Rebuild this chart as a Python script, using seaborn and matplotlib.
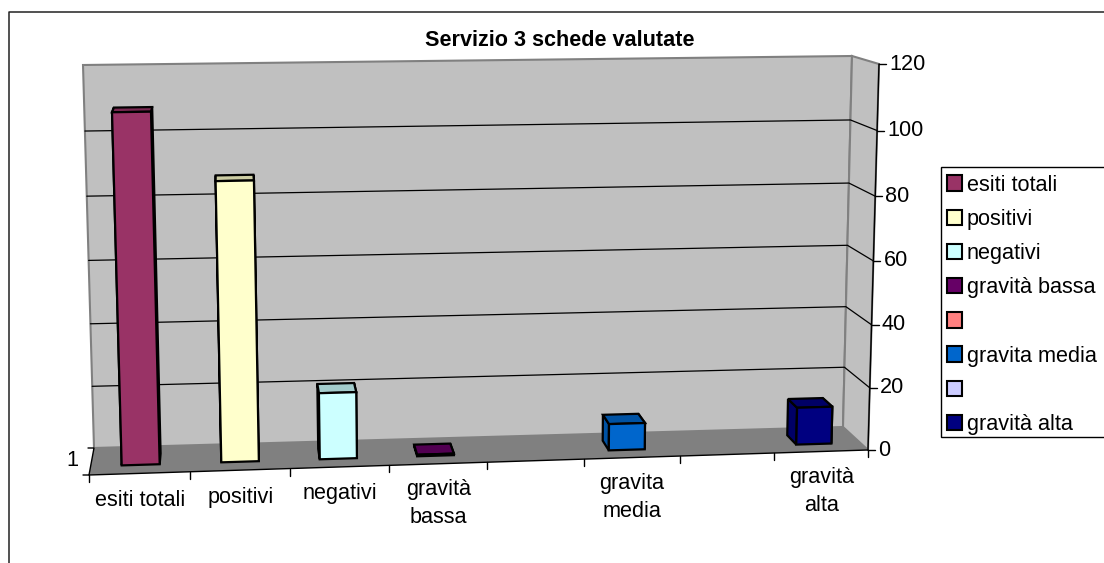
import numpy as np
import pandas as pd
import matplotlib
matplotlib.use("Agg")
import matplotlib.pyplot as plt
from matplotlib.patches import Patch, Polygon, Rectangle
from matplotlib.transforms import Transform
import seaborn as sns

title = "Servizio 3 schede valutate"
slots = [0, 1, 2, 3, 5, 7]
names = ["esiti totali", "positivi", "negativi", "gravità bassa", "gravita media", "gravità alta"]
values = [108, 87, 21, 0.5, 8.5, 12]
colors = ["#993366", "#FFFFCC", "#CCFFFF", "#660066", "#0066CC", "#000080"]
tick_labels = ["esiti totali", "positivi", "negativi", "gravità\nbassa", "", "gravita\nmedia", "", "gravità\nalta"]
legend_labels = ["esiti totali", "positivi", "negativi", "gravità bassa", "", "gravita media", "", "gravità alta"]
legend_colors = ["#993366", "#FFFFCC", "#CCFFFF", "#660066", "#FF8080", "#0066CC", "#CCCCFF", "#000080"]
y_ticks = [0, 20, 40, 60, 80, 100, 120]
n_slots = 8
y_max = 120

sns.set_theme(style="white")
plt.rcParams["font.family"] = ["Liberation Sans", "DejaVu Sans"]

# pixel corners of the excel 3d box
front_bl, front_br = np.array([89, 475.0]), np.array([868, 450.0])
front_tl, front_tr = np.array([77, 75.0]), np.array([879, 64.0])
back_bl, back_br = np.array([94, 448.0]), np.array([843, 427.0])
back_tl, back_tr = np.array([83, 65.0]), np.array([852, 56.0])


def warp(t, k):
    return t * k / (1 + t * (k - 1))


def box_point(x, v, d):
    # x in slot units, v in axis units, d is depth 0 (front) to 1 (back wall)
    t = warp((np.asarray(x, dtype=float) + 0.5) / n_slots, 1.045)
    s = warp(np.asarray(v, dtype=float) / y_max, 0.96)
    t, s, d = t[..., None], s[..., None], np.asarray(d, dtype=float)[..., None]
    bottom_f = front_bl * (1 - t) + front_br * t
    top_f = front_tl * (1 - t) + front_tr * t
    bottom_b = back_bl * (1 - t) + back_br * t
    top_b = back_tl * (1 - t) + back_tr * t
    f = bottom_f * (1 - s) + top_f * s
    b = bottom_b * (1 - s) + top_b * s
    return f * (1 - d) + b * d


class DepthPlane(Transform):
    input_dims = 2
    output_dims = 2

    def __init__(self, plane):
        super().__init__()
        self.plane = plane

    def transform_non_affine(self, values):
        values = np.asarray(values, dtype=float)
        return box_point(values[:, 0], values[:, 1], np.full(len(values), self.plane))


fig = plt.figure(figsize=(11.04, 5.63), dpi=100, facecolor="white")
pix = fig.add_axes([0, 0, 1, 1])
pix.set_xlim(0, 1104)
pix.set_ylim(563, 0)
pix.axis("off")


def p(x, v, d):
    return box_point(np.array(x, dtype=float), np.array(v, dtype=float), np.array(d, dtype=float))


x_lo, x_hi = -0.5, n_slots - 0.5

# outer chart frame
pix.plot([8.5, 8.5, 1104], [563, 12, 12], color="#222222", lw=1.1)

# walls and floor
wall_edge = "#808080"
pix.add_patch(Polygon([p(x_lo, 0, 1), p(x_hi, 0, 1), p(x_hi, y_max, 1), p(x_lo, y_max, 1)],
                      fc="#C0C0C0", ec=wall_edge, lw=1.5))
pix.add_patch(Polygon([p(x_hi, 0, 1), p(x_hi, 0, 0), p(x_hi, y_max, 0), p(x_hi, y_max, 1)],
                      fc="#C0C0C0", ec=wall_edge, lw=1.5))
pix.add_patch(Polygon([p(x_lo, 0, 0), p(x_hi, 0, 0), p(x_hi, 0, 1), p(x_lo, 0, 1)],
                      fc="#808080", ec="none"))

# gridlines, back wall then right wall
for v in y_ticks[1:-1]:
    a, b, c = p(x_lo, v, 1), p(x_hi, v, 1), p(x_hi, v, 0)
    pix.plot([a[0], b[0], c[0]], [a[1], b[1], c[1]], color="black", lw=0.9)

# value axis
a, b = p(x_hi, 0, 0), p(x_hi, y_max, 0)
pix.plot([a[0], b[0]], [a[1], b[1]], color="black", lw=1)
for v in y_ticks:
    a = p(x_hi, v, 0)
    pix.plot([a[0], a[0] + 7], [a[1], a[1]], color="black", lw=1)
    pix.text(a[0] + 10, a[1], str(v), fontsize=15.6, va="center", ha="left", color="black")

# category axis
a, b = p(x_lo, 0, 0), p(x_hi, 0, 0)
pix.plot([a[0], b[0]], [a[1], b[1]], color="black", lw=1)
for i in range(n_slots + 1):
    a = p(i - 0.5, 0, 0)
    pix.plot([a[0], a[0]], [a[1], a[1] + 7], color="black", lw=1)
for i, lab in enumerate(tick_labels):
    a = p(i, 0, 0)
    off = 40 if "\n" in lab else 27
    pix.text(a[0], a[1] + off, lab, fontsize=15.6, ha="center", va="center", linespacing=1.45, color="black")

# depth axis with its single label
a, b = p(x_lo, 0, 0), p(x_lo, 0, 1)
pix.plot([a[0] - 6, a[0], b[0], b[0] - 6], [a[1], a[1], b[1], b[1]], color="black", lw=1)
pix.text(72, 460, "1", fontsize=15.6, ha="center", va="center", color="black")

pix.text(560, 40, title, fontsize=15.6, fontweight="bold", ha="center", va="center", color="black")

# bars
df = pd.DataFrame({"slot": slots, "name": names, "value": values})
bar_ax = fig.add_axes([0, 0, 1, 1], zorder=3)
sns.barplot(data=df, x="slot", y="value", hue="name", order=list(range(n_slots)),
            hue_order=names, palette=dict(zip(names, colors)), dodge=False, width=0.38,
            legend=False, saturation=1, edgecolor="black", linewidth=1.6, ax=bar_ax)
bar_ax.patch.set_alpha(0)
bar_ax.axis("off")

d_front, d_back = 0.32, 0.72
for bar in list(bar_ax.patches):
    h = bar.get_height()
    if not np.isfinite(h) or h == 0:
        continue
    x0, x1 = bar.get_x(), bar.get_x() + bar.get_width()
    shade = tuple(np.array(matplotlib.colors.to_rgb(bar.get_facecolor())) * 0.8)
    bar.set_transform(DepthPlane(d_front) + pix.transData)
    bar.set_zorder(4)
    faces = [
        [p(x0, 0, d_front), p(x0, 0, d_back), p(x0, h, d_back), p(x0, h, d_front)],
        [p(x1, 0, d_front), p(x1, 0, d_back), p(x1, h, d_back), p(x1, h, d_front)],
        [p(x0, h, d_front), p(x1, h, d_front), p(x1, h, d_back), p(x0, h, d_back)],
    ]
    for face in faces:
        bar_ax.add_patch(Polygon(face, closed=True, fc=shade, ec="black", lw=1.6,
                                 transform=pix.transData, zorder=3))

# legend
pix.add_patch(Rectangle((941, 167), 175, 270, fc="white", ec="black", lw=1, zorder=5))
handles = [Patch(fc=c, ec="black", lw=1.5) for c in legend_colors]
leg = pix.legend(handles, legend_labels, loc="upper left", bbox_to_anchor=(938, 166),
                 bbox_transform=pix.transData, frameon=False, fontsize=15.6, ncol=1, labelcolor="black",
                 handlelength=0.72, handleheight=0.72, handletextpad=0.2, labelspacing=0.61,
                 borderpad=0.4, borderaxespad=0)
leg.set_zorder(6)

fig.savefig("out.png", dpi=100)
